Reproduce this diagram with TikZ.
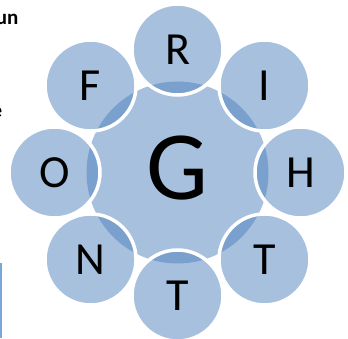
\documentclass[tikz,border=0pt]{standalone}
\usepackage{fontspec}
\setmainfont{Carlito}
\usetikzlibrary{calc}
\definecolor{petalblue}{HTML}{4F81BD}
\definecolor{edgeblue}{HTML}{7AA6DC}

\begin{document}
\begin{tikzpicture}[x=1pt, y=1pt,
    hub/.style={circle, minimum size=182pt, inner sep=0pt, fill=petalblue, fill opacity=0.5, text opacity=1},
    petal/.style={circle, minimum size=91pt, inner sep=0pt, fill=petalblue, fill opacity=0.5, text opacity=1,
      draw=white, line width=3.5pt, font=\fontsize{46}{46}\selectfont},
    scrap/.style={anchor=base east, inner sep=0pt, font=\bfseries\fontsize{21}{21}\selectfont}]
  \useasboundingbox (0,0) rectangle (348,338);
  \clip (0,0) rectangle (348,338);
  % cut-off bits of the neighbouring content
  \node[scrap] (scrapun) at (18.5,313) {un};
  \node[scrap] (scrape) at (2.5,221) {e};
  \fill[edgeblue] (0,0) rectangle (1.5,75);
  % hub and petals
  \coordinate (c) at (177.5,165.5);
  \node[hub] (hub) at (c) {};
  \node[font=\fontsize{98}{98}\selectfont] (hubtext) at (177.5,169.5) {G};
  \foreach \ang/\txt [count=\i] in {90/R,45/I,0/H,-45/T,-90/T,-135/N,180/O,135/F}
    \node[petal] (petal\i) at ($(c)+(\ang:123)$) {\txt};
\end{tikzpicture}
\end{document}
